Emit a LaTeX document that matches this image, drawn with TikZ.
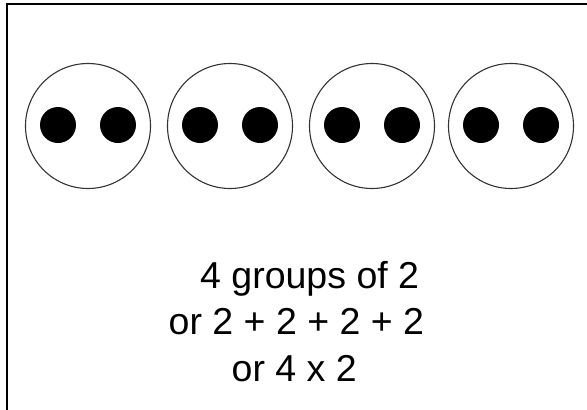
\documentclass[tikz,border=0pt]{standalone}
\usepackage{fontspec}
\setmainfont{Liberation Sans}
\begin{document}
\begin{tikzpicture}[x=1pt,y=-1pt,
  group/.style={circle,draw=black!80,line width=1.1pt,minimum size=125pt,inner sep=0pt},
  dot/.style={circle,fill=black,minimum size=36pt,inner sep=0pt},
  label/.style={anchor=base west,inner sep=0pt,font=\fontsize{37.5}{45}\selectfont}]
\useasboundingbox (0,0) rectangle (587,410);
\fill[white] (0,0) rectangle (587,410);
\draw[line width=2.2pt] (7,411) -- (7,4) -- (588,4);
\foreach \i/\x in {1/88,2/230,3/372,4/511}{
  \node[group] (g\i) at (\x,126) {};
  \node[dot] (d\i a) at (\x-30,125) {};
  \node[dot] (d\i b) at (\x+30,125) {};
}
\node[label] (t1) at (200,288) {4 groups of 2};
\node[label] (t2) at (168.5,334) {or 2 + 2 + 2 + 2};
\node[label] (t3) at (231.5,381) {or 4 x 2};
\end{tikzpicture}
\end{document}
